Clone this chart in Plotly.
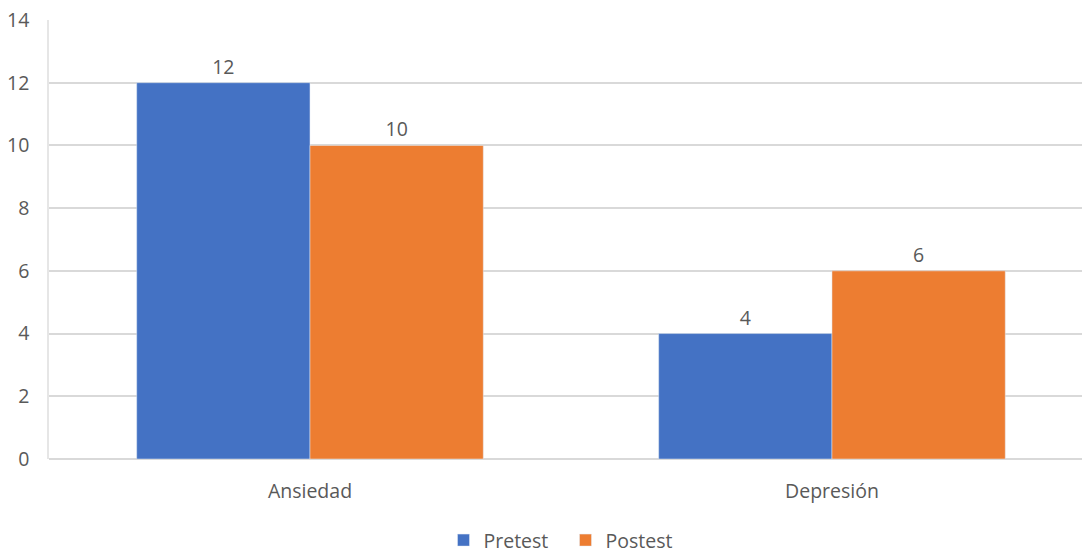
import plotly.graph_objects as go

categories = ["Ansiedad", "Depresión"]
pretest = [12, 4]
postest = [10, 6]
y_ticks = [0, 2, 4, 6, 8, 10, 12, 14]

font_fam = "Open Sans, DejaVu Sans, sans-serif"
txt_col = "#595959"
fs = 19.5

fig = go.Figure()
fig.add_trace(go.Bar(name="Pretest", x=categories, y=pretest, marker_color="#4472C4",
                     text=pretest, textposition="outside", cliponaxis=False,
                     textfont=dict(size=fs, color=txt_col, family=font_fam)))
fig.add_trace(go.Bar(name="Postest", x=categories, y=postest, marker_color="#ED7D31",
                     text=postest, textposition="outside", cliponaxis=False,
                     textfont=dict(size=fs, color=txt_col, family=font_fam)))

fig.update_layout(
    width=1082, height=553,
    margin=dict(l=49, r=0, t=20, b=94, autoexpand=False),
    paper_bgcolor="white", plot_bgcolor="white",
    barmode="group", bargap=0.336, bargroupgap=0,
    font=dict(family=font_fam, size=fs, color=txt_col),
    showlegend=True,
    legend=dict(orientation="h", x=0.5, xanchor="center", yref="container", y=0.058,
                yanchor="top", entrywidth=77, entrywidthmode="pixels",
                font=dict(size=fs, color=txt_col), itemwidth=30, traceorder="normal"),
)
fig.update_xaxes(range=[-0.5, 1.479], showgrid=False, showline=False, zeroline=False,
                 ticks="", ticklabelstandoff=18, tickfont=dict(size=fs, color=txt_col))
fig.update_yaxes(range=[0, 14], tickvals=y_ticks, showgrid=True, gridcolor="#d9d9d9",
                 gridwidth=1.5, zeroline=True, zerolinecolor="#d9d9d9", zerolinewidth=1.5,
                 showline=True, linecolor="#e6e6e6", linewidth=1.5,
                 ticks="", ticklabelstandoff=14, tickfont=dict(size=fs, color=txt_col))

fig.write_html("out.html")
